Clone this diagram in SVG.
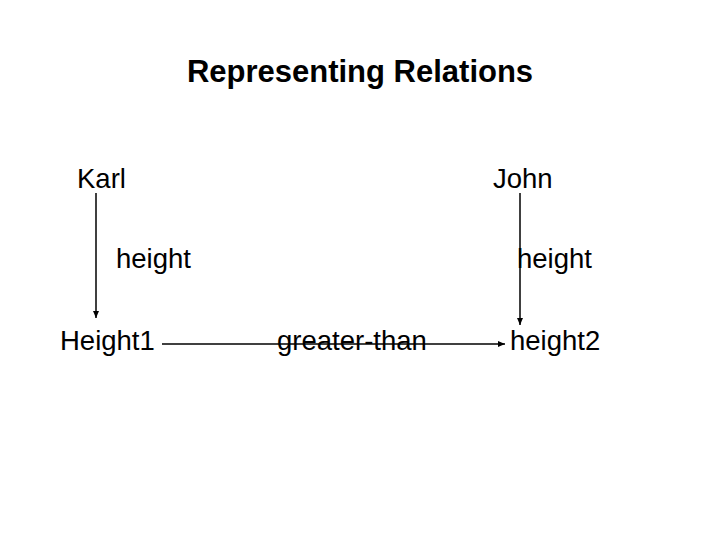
<svg xmlns="http://www.w3.org/2000/svg" width="720" height="540" viewBox="0 0 720 540">
<style>
text{font-family:"Liberation Sans",Arial,sans-serif;font-size:27.5px;fill:#000}
.t{font-size:31px;font-weight:bold}
line{stroke:#000;stroke-width:1.5}
</style>
<defs><marker id="a" markerWidth="8" markerHeight="8" refX="7" refY="4" orient="auto" markerUnits="userSpaceOnUse"><path d="M0,1 L7,4 L0,7 Z" fill="#000"/></marker></defs>
<rect width="720" height="540" fill="#fff"/>
<text class="t" x="360" y="82" text-anchor="middle">Representing Relations</text>
<g id="edges">
<line x1="96" y1="193" x2="96" y2="318" marker-end="url(#a)"/>
<line x1="520" y1="193" x2="520" y2="325" marker-end="url(#a)"/>
<line x1="162" y1="344" x2="505" y2="344" marker-end="url(#a)"/>
<text x="116" y="268">height</text>
<text x="517" y="268">height</text>
<text x="277" y="350">greater-than</text>
</g>
<g id="karl"><text x="77" y="188">Karl</text></g>
<g id="john"><text x="493" y="188">John</text></g>
<g id="height1"><text x="60" y="350">Height1</text></g>
<g id="height2"><text x="510" y="350">height2</text></g>
</svg>
